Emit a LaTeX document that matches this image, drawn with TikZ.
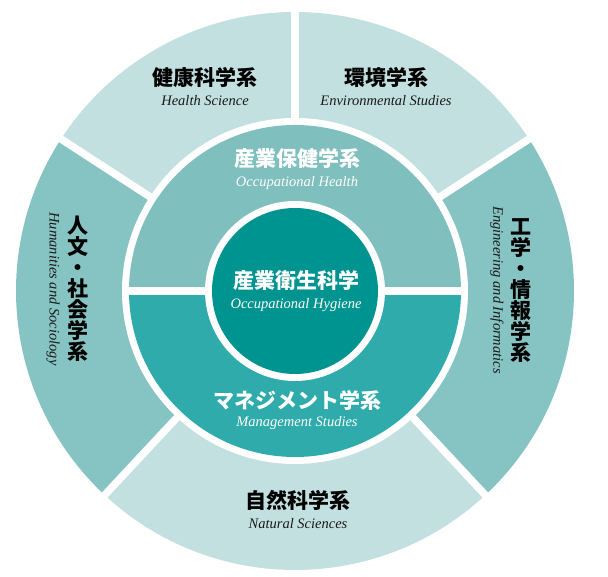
\documentclass[tikz,border=0pt]{standalone}
\usepackage{fontspec}
\setmainfont{Liberation Serif}
\newfontfamily\jpfont{Noto Sans CJK JP}
\newfontfamily\enfont{Liberation Serif}
\usetikzlibrary{positioning}
\definecolor{palecyan}{RGB}{195,224,224}
\definecolor{midcyan}{RGB}{134,195,195}
\definecolor{healthcyan}{RGB}{127,191,190}
\definecolor{mgmtcyan}{RGB}{46,171,170}
\definecolor{corecyan}{RGB}{0,148,144}

\begin{document}
\begin{tikzpicture}[x=1pt, y=1pt,
    jp/.style={font=\jpfont\bfseries\fontsize{21}{21}\selectfont, inner sep=0pt},
    jpdark/.style={jp, text=black},
    jplight/.style={jp, text=white},
    en/.style={font=\enfont\itshape\fontsize{14.5}{14.5}\selectfont, inner sep=0pt},
    endark/.style={en, text=black!90},
    enlight/.style={en, text=white},
    gap/.style={white, line width=7.5pt}]
  \useasboundingbox (0,0) rectangle (608,577);
  \coordinate (O) at (295,286);
  % outer ring
  \foreach \a/\b/\col in {33/90/palecyan, 90/147/palecyan, 147/227/midcyan,
      227/313/palecyan, 313/393/midcyan}{
    \fill[\col] (O) -- ++(\a:279) arc[start angle=\a, end angle=\b, radius=279] -- cycle;
  }
  % white cuts between the segments
  \foreach \a in {33,90,147,227,313}{
    \draw[gap] (O) -- ++(\a:290);
  }
  % middle ring
  \fill[white] (O) circle (173);
  \fill[healthcyan] (O) ++(166,0) arc[start angle=0, end angle=180, radius=166] -- cycle;
  \fill[mgmtcyan] (O) ++(166,0) arc[start angle=0, end angle=-180, radius=166] -- cycle;
  \draw[gap] (O) ++(-170,0) -- ++(340,0);
  % core
  \fill[white] (O) circle (90);
  \fill[corecyan] (O) circle (83);

  % labels
  \node[jpdark] (health) at (205,499) {健康科学系};
  \node[endark] (healthEn) at (205,476) {Health Science};
  \node[jpdark] (env) at (386,499) {環境学系};
  \node[endark] (envEn) at (386,476) {Environmental Studies};
  \node[jplight] (occ) at (297,419) {産業保健学系};
  \node[enlight] (occEn) at (297,394) {Occupational Health};
  \node[jplight] (core) at (296,297) {産業衛生科学};
  \node[enlight] (coreEn) at (296,272) {Occupational Hygiene};
  \node[jplight] (mgmt) at (297,177) {マネジメント学系};
  \node[enlight] (mgmtEn) at (297,154) {Management Studies};
  \node[jpdark] (nat) at (298,77) {自然科学系};
  \node[endark] (natEn) at (298,53) {Natural Sciences};
  \node[jpdark, align=center] (hum) at (78,288) {人\\文\\・\\社\\会\\学\\系};
  \node[endark, rotate=-90] (humEn) at (53,288) {Humanities and Sociology};
  \node[jpdark, align=center] (eng) at (521,286) {工\\学\\・\\情\\報\\学\\系};
  \node[endark, rotate=-90] (engEn) at (497,287) {Engineering and Informatics};
\end{tikzpicture}
\end{document}
